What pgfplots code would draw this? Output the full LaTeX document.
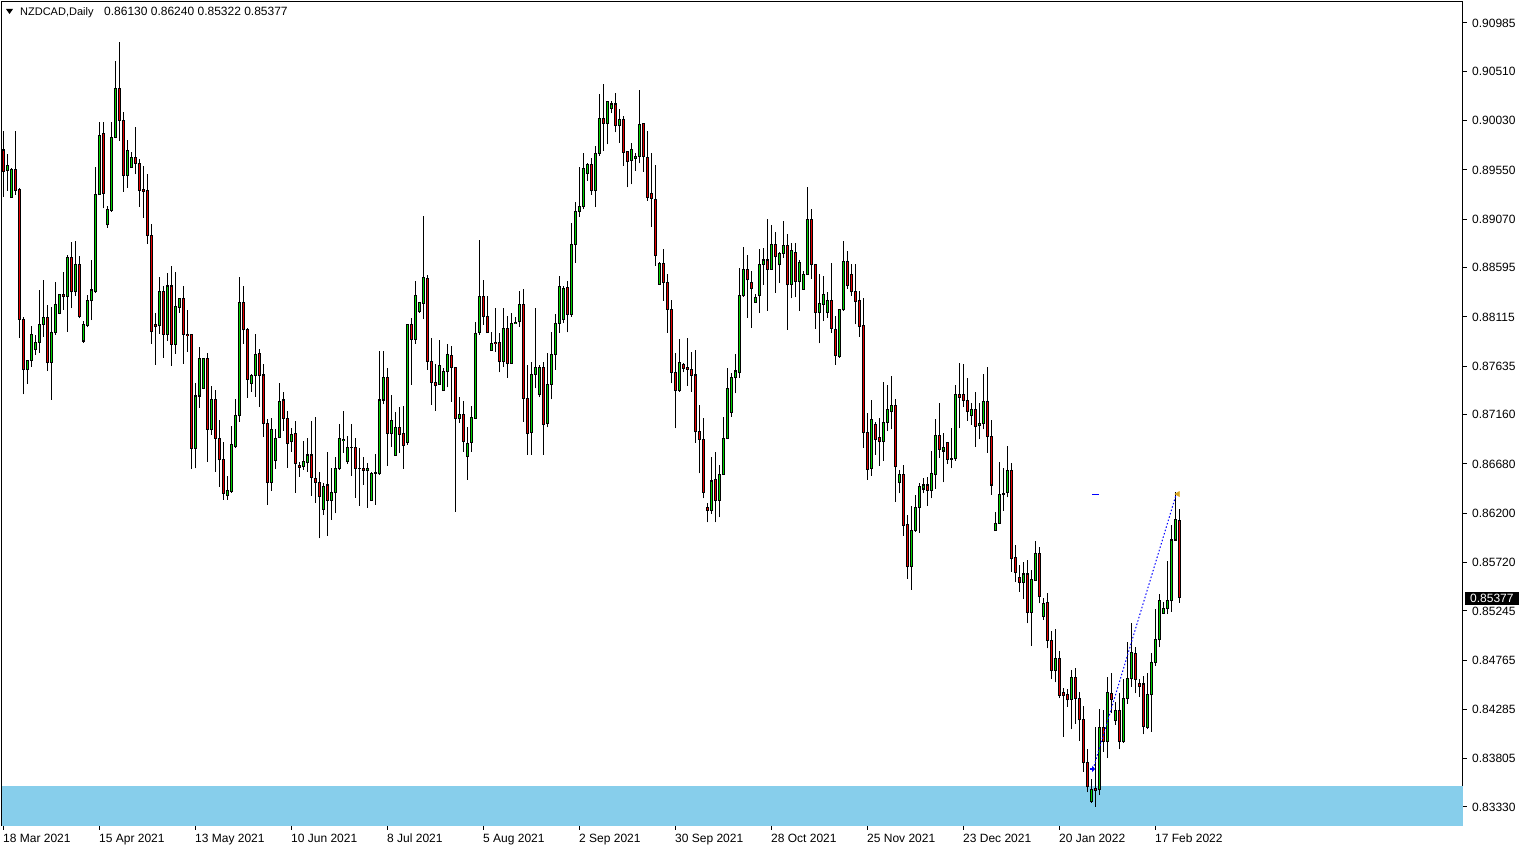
\documentclass[border=0pt]{standalone}
\usepackage{fontspec}
\setmainfont{Liberation Sans}
\usepackage{pgfplots}
\pgfplotsset{compat=1.18}
\usepackage{pgfplotstable}
\usetikzlibrary{arrows.meta}
\definecolor{bull}{RGB}{0,210,0}
\definecolor{bear}{RGB}{230,0,0}
\definecolor{zone}{RGB}{135,206,235}
\definecolor{tradeorange}{RGB}{218,165,32}

\pgfplotstableread{
o h l c
0.89745 0.89930 0.89290 0.89533
0.89543 0.89706 0.89345 0.89589
0.89283 0.89567 0.89283 0.89550
0.89550 0.89930 0.89306 0.89348
0.89355 0.89377 0.87913 0.88092
0.88092 0.88117 0.87360 0.87600
0.87600 0.87688 0.87458 0.87688
0.87688 0.88027 0.87630 0.87946
0.87800 0.87939 0.87744 0.87868
0.87868 0.88378 0.87767 0.88043
0.88043 0.88476 0.87922 0.88111
0.88111 0.88232 0.87587 0.87669
0.87669 0.88209 0.87304 0.87965
0.87961 0.88453 0.87939 0.88239
0.88151 0.88336 0.88141 0.88336
0.88336 0.88551 0.88183 0.88313
0.88313 0.88720 0.87972 0.88697
0.88697 0.88850 0.88200 0.88361
0.88361 0.88857 0.88320 0.88623
0.88623 0.88713 0.88102 0.88117
0.87880 0.88078 0.87864 0.88037
0.88030 0.88330 0.88014 0.88271
0.88271 0.88671 0.88085 0.88378
0.88361 0.89582 0.88352 0.89306
0.89306 0.90021 0.89306 0.89891
0.89908 0.90021 0.89176 0.89322
0.89013 0.89198 0.88987 0.89166
0.89152 0.90015 0.89143 0.89869
0.89869 0.90614 0.89859 0.90348
0.90348 0.90803 0.89836 0.90031
0.90031 0.90113 0.89338 0.89494
0.89494 0.89843 0.89377 0.89738
0.89576 0.89729 0.89573 0.89674
0.89674 0.89967 0.89508 0.89615
0.89615 0.89654 0.89191 0.89348
0.89355 0.89589 0.89084 0.89338
0.89345 0.89508 0.88827 0.88909
0.88909 0.89020 0.87851 0.87972
0.88043 0.88151 0.87646 0.88020
0.88030 0.88502 0.87949 0.88361
0.88361 0.88417 0.87717 0.87946
0.87946 0.88541 0.87880 0.88417
0.88417 0.88613 0.87639 0.87848
0.87848 0.88551 0.87754 0.88215
0.88209 0.88297 0.88157 0.88297
0.88297 0.88417 0.87656 0.87946
0.87946 0.88183 0.87776 0.87932
0.87939 0.87949 0.86628 0.86833
0.86833 0.87467 0.86637 0.87343
0.87343 0.87819 0.87229 0.87711
0.87418 0.87717 0.87418 0.87705
0.87711 0.87760 0.86702 0.87018
0.87018 0.87441 0.86963 0.87311
0.87311 0.87402 0.86605 0.86930
0.86930 0.87109 0.86458 0.86719
0.86725 0.86891 0.86328 0.86393
0.86370 0.86562 0.86328 0.86416
0.86410 0.87050 0.86400 0.86865
0.86848 0.87311 0.86833 0.87148
0.87148 0.88502 0.87092 0.88258
0.88258 0.88417 0.87851 0.87988
0.87997 0.88004 0.87327 0.87506
0.87467 0.87555 0.87385 0.87541
0.87541 0.87946 0.87336 0.87751
0.87760 0.87802 0.87239 0.87541
0.87548 0.87653 0.86946 0.87077
0.87077 0.87119 0.86279 0.86497
0.86497 0.87125 0.86416 0.87018
0.86712 0.87018 0.86631 0.86930
0.86940 0.87467 0.86930 0.87294
0.87304 0.87379 0.87004 0.87125
0.87125 0.87197 0.86644 0.86881
0.86897 0.87027 0.86800 0.86969
0.86979 0.87099 0.86400 0.86686
0.86660 0.86696 0.86555 0.86647
0.86653 0.86904 0.86621 0.86702
0.86692 0.86936 0.86605 0.86767
0.86767 0.87099 0.86370 0.86549
0.86539 0.87141 0.86296 0.86500
0.86500 0.86598 0.85954 0.86360
0.86237 0.86490 0.86181 0.86464
0.86474 0.86794 0.85979 0.86321
0.86321 0.86644 0.86133 0.86403
0.86400 0.86745 0.86198 0.86637
0.86631 0.87067 0.86621 0.86930
0.86907 0.87197 0.86790 0.86920
0.86702 0.86956 0.86679 0.86842
0.86842 0.87067 0.86562 0.86836
0.86842 0.86936 0.86351 0.86634
0.86637 0.86839 0.86269 0.86631
0.86637 0.86751 0.86474 0.86614
0.86614 0.86686 0.86253 0.86637
0.86321 0.86605 0.86318 0.86588
0.86588 0.86774 0.86279 0.86592
0.86582 0.87783 0.86572 0.87304
0.87304 0.87783 0.87262 0.87526
0.87526 0.87620 0.86660 0.86979
0.86979 0.87353 0.86848 0.87102
0.86760 0.87184 0.86760 0.87037
0.87037 0.87239 0.86790 0.86969
0.86979 0.87249 0.86631 0.86858
0.86887 0.88043 0.86865 0.88043
0.88037 0.88102 0.87451 0.87897
0.87897 0.88466 0.87851 0.88323
0.88166 0.88264 0.88156 0.88254
0.88248 0.89101 0.88092 0.88502
0.88492 0.88525 0.87597 0.87679
0.87679 0.87906 0.87255 0.87473
0.87473 0.87656 0.87197 0.87444
0.87458 0.87890 0.87451 0.87643
0.87395 0.87614 0.87395 0.87584
0.87581 0.87851 0.87428 0.87751
0.87741 0.87832 0.87288 0.87620
0.87624 0.87624 0.86214 0.87122
0.87122 0.87330 0.87077 0.87164
0.87158 0.87294 0.86800 0.86897
0.86751 0.87037 0.86523 0.86881
0.86891 0.87246 0.86800 0.87135
0.87125 0.88068 0.87116 0.87956
0.87961 0.88866 0.87939 0.88313
0.88313 0.88476 0.88037 0.88117
0.88117 0.88320 0.87956 0.87961
0.87786 0.87965 0.87786 0.87858
0.87868 0.88200 0.87776 0.87855
0.87868 0.87956 0.87574 0.87679
0.87679 0.88200 0.87630 0.88004
0.88004 0.88124 0.87522 0.87663
0.87663 0.88151 0.87656 0.88053
0.88050 0.88111 0.88046 0.88063
0.88068 0.88369 0.88020 0.88239
0.88239 0.88388 0.87092 0.87320
0.87320 0.87646 0.86767 0.86979
0.86989 0.87672 0.86767 0.87555
0.87555 0.88200 0.87418 0.87624
0.87360 0.87646 0.87330 0.87624
0.87624 0.87672 0.86767 0.87067
0.87077 0.87760 0.87037 0.87458
0.87458 0.87965 0.87311 0.87751
0.87751 0.88144 0.87597 0.88053
0.88053 0.88515 0.87956 0.88411
0.88092 0.88417 0.88053 0.88395
0.88404 0.88466 0.87965 0.88141
0.88141 0.89030 0.88117 0.88824
0.88824 0.89234 0.88645 0.89143
0.89143 0.89576 0.89094 0.89191
0.89191 0.89713 0.89166 0.89567
0.89518 0.89615 0.89445 0.89606
0.89606 0.89664 0.89306 0.89345
0.89345 0.89784 0.89186 0.89713
0.89713 0.90292 0.89686 0.90055
0.90055 0.90389 0.89738 0.90006
0.90006 0.90217 0.89801 0.90217
0.90152 0.90226 0.90103 0.90194
0.90194 0.90299 0.89918 0.89983
0.89983 0.90142 0.89817 0.90045
0.90045 0.90077 0.89592 0.89723
0.89729 0.89735 0.89381 0.89631
0.89641 0.89811 0.89410 0.89752
0.89664 0.89713 0.89540 0.89686
0.89680 0.90331 0.89615 0.89996
0.90006 0.90012 0.89533 0.89680
0.89674 0.89930 0.89247 0.89280
0.89316 0.89713 0.88996 0.89274
0.89264 0.89599 0.88616 0.88713
0.88434 0.88655 0.88427 0.88639
0.88639 0.88778 0.88274 0.88453
0.88453 0.88534 0.87961 0.88190
0.88190 0.88281 0.87467 0.87574
0.87574 0.87767 0.87027 0.87395
0.87395 0.87899 0.87385 0.87672
0.87653 0.87663 0.87574 0.87614
0.87624 0.87906 0.87444 0.87604
0.87604 0.87776 0.87385 0.87541
0.87548 0.87793 0.86887 0.86994
0.86994 0.87255 0.86588 0.86920
0.86920 0.87131 0.86344 0.86403
0.86256 0.86296 0.86110 0.86223
0.86223 0.86751 0.86191 0.86513
0.86523 0.86800 0.86110 0.86321
0.86321 0.86670 0.86159 0.86572
0.86579 0.87141 0.86579 0.86930
0.86930 0.87620 0.86923 0.87412
0.87180 0.87565 0.87141 0.87526
0.87522 0.87754 0.87369 0.87587
0.87568 0.88593 0.87519 0.88320
0.88320 0.88801 0.88313 0.88580
0.88580 0.88720 0.88107 0.88476
0.88453 0.88564 0.88011 0.88388
0.88258 0.88336 0.88258 0.88307
0.88320 0.88778 0.88151 0.88629
0.88629 0.88791 0.88427 0.88671
0.88671 0.89072 0.88173 0.88580
0.88580 0.89013 0.88574 0.88824
0.88824 0.88941 0.88352 0.88703
0.88623 0.88752 0.88444 0.88736
0.88736 0.89052 0.88694 0.88811
0.88808 0.88921 0.87988 0.88427
0.88434 0.88834 0.88297 0.88759
0.88746 0.88834 0.88307 0.88460
0.88460 0.88671 0.88176 0.88649
0.88385 0.88564 0.88378 0.88525
0.88531 0.89387 0.88525 0.89062
0.89062 0.89169 0.88483 0.88623
0.88623 0.88629 0.87997 0.88157
0.88157 0.88531 0.87858 0.88248
0.88239 0.88515 0.88075 0.88330
0.88157 0.88362 0.88107 0.88274
0.88274 0.88639 0.87961 0.88004
0.87994 0.88124 0.87646 0.87738
0.87728 0.88193 0.87718 0.88183
0.88183 0.88857 0.88173 0.88661
0.88661 0.88759 0.88388 0.88421
0.88531 0.88629 0.88323 0.88361
0.88361 0.88629 0.88043 0.88264
0.88271 0.88369 0.87922 0.88020
0.88027 0.88297 0.86833 0.86985
0.86989 0.87174 0.86523 0.86628
0.86637 0.87304 0.86565 0.87109
0.87060 0.87092 0.86767 0.86923
0.86940 0.87125 0.86663 0.86897
0.86897 0.87477 0.86709 0.87086
0.87086 0.87451 0.87001 0.87207
0.87190 0.87539 0.87018 0.87255
0.87246 0.87314 0.86311 0.86653
0.86497 0.86621 0.86393 0.86572
0.86572 0.86670 0.85979 0.86077
0.86084 0.86185 0.85557 0.85677
0.85677 0.86269 0.85449 0.86026
0.86029 0.86377 0.86019 0.86256
0.86253 0.86497 0.86009 0.86464
0.86435 0.86539 0.86393 0.86474
0.86474 0.86555 0.86272 0.86419
0.86419 0.86809 0.86344 0.86582
0.86579 0.87116 0.86435 0.86953
0.86953 0.87272 0.86741 0.86823
0.86806 0.86979 0.86500 0.86839
0.86891 0.86891 0.86679 0.86725
0.86735 0.87027 0.86637 0.86725
0.86728 0.87451 0.86712 0.87353
0.87353 0.87669 0.87027 0.87330
0.87353 0.87656 0.87239 0.87298
0.87298 0.87516 0.87099 0.87190
0.87151 0.87272 0.87060 0.87213
0.87213 0.87379 0.86848 0.87044
0.87053 0.87278 0.86920 0.87077
0.87070 0.87558 0.87018 0.87288
0.87288 0.87624 0.86790 0.86946
0.86946 0.87109 0.86377 0.86474
0.86029 0.86207 0.86026 0.86100
0.86100 0.86696 0.86094 0.86383
0.86383 0.86637 0.86223 0.86393
0.86400 0.86855 0.86354 0.86611
0.86611 0.86686 0.85628 0.85752
0.85768 0.85888 0.85530 0.85618
0.85573 0.85693 0.85433 0.85521
0.85521 0.85726 0.85358 0.85605
0.85605 0.85742 0.85124 0.85231
0.85231 0.85644 0.84904 0.85547
0.85540 0.85927 0.85537 0.85808
0.85808 0.85866 0.85319 0.85383
0.85189 0.85368 0.85156 0.85319
0.85329 0.85423 0.84880 0.84954
0.84951 0.85049 0.84580 0.84661
0.84661 0.85068 0.84547 0.84782
0.84782 0.84853 0.84391 0.84417
0.84450 0.84489 0.84017 0.84417
0.84424 0.84483 0.84310 0.84375
0.84382 0.84668 0.84089 0.84596
0.84596 0.84690 0.84141 0.84391
0.84391 0.84450 0.83977 0.84180
0.84180 0.84316 0.83675 0.83763
0.83767 0.83893 0.83474 0.83529
0.83382 0.83604 0.83372 0.83503
0.83513 0.84109 0.83333 0.83490
0.83503 0.84287 0.83447 0.84109
0.84109 0.84277 0.83870 0.83968
0.83968 0.84603 0.83806 0.84450
0.84440 0.84641 0.84245 0.84382
0.84173 0.84358 0.84131 0.84268
0.84268 0.84440 0.83893 0.83968
0.83968 0.84577 0.83958 0.84391
0.84391 0.84938 0.84336 0.84580
0.84580 0.85124 0.84505 0.84840
0.84830 0.84889 0.84440 0.84577
0.84538 0.84580 0.84407 0.84505
0.84531 0.84612 0.84040 0.84115
0.84109 0.84641 0.84089 0.84424
0.84424 0.84830 0.84066 0.84743
0.84743 0.85261 0.84711 0.84961
0.84961 0.85407 0.84889 0.85351
0.85222 0.85335 0.85215 0.85264
0.85264 0.85732 0.85212 0.85342
0.85342 0.86084 0.85238 0.85937
0.85937 0.86403 0.85927 0.86133
0.86130 0.86240 0.85322 0.85377
}\candles

\begin{document}
\begin{tikzpicture}[x=1pt,y=1pt]
\useasboundingbox (0,0) rectangle (1528,850);
\begin{axis}[
  at={(2pt,24pt)}, anchor=south west,
  scale only axis, width=1461pt, height=824pt,
  xmin=-0.375, xmax=364.875,
  ymin=0.831445, ymax=0.911901,
  clip=false,
  axis line style={line width=1pt, black},
  tick align=outside,
  major tick length=4pt,
  tick style={black, line width=1pt},
  xtick={0,24,48,72,96,120,144,168,192,216,240,264,288},
  xticklabels={18 Mar 2021,15 Apr 2021,13 May 2021,10 Jun 2021,8 Jul 2021,5 Aug 2021,2 Sep 2021,30 Sep 2021,28 Oct 2021,25 Nov 2021,23 Dec 2021,20 Jan 2022,17 Feb 2022},
  xtick pos=bottom,
  ytick pos=right,
  yticklabel pos=right,
  ytick={0.90985,0.90510,0.90030,0.89550,0.89070,0.88595,0.88115,0.87635,0.87160,0.86680,0.86200,0.85720,0.85245,0.84765,0.84285,0.83805,0.83330},
  yticklabels={0.90985,0.90510,0.90030,0.89550,0.89070,0.88595,0.88115,0.87635,0.87160,0.86680,0.86200,0.85720,0.85245,0.84765,0.84285,0.83805,0.83330},
  scaled y ticks=false,
  /pgf/number format/assume math mode=true,
  xticklabel style={anchor=north west, inner sep=0pt, xshift=-0.5pt, yshift=-3.5pt, font=\fontsize{12}{14}\selectfont},
  yticklabel style={anchor=west, inner sep=0pt, xshift=5pt, font=\fontsize{12}{14}\selectfont},
]
% support zone
\addplot[draw=none, fill=zone, forget plot] coordinates {(-0.375,0.831445) (364.875,0.831445) (364.875,0.83535) (-0.375,0.83535)} -- cycle;
% wicks
\addplot[draw=none, mark=none, forget plot,
  error bars/.cd, y dir=plus, y explicit, error mark=none,
  error bar style={draw=black, line width=1pt}]
  table[x expr=\coordindex, y=l, y error plus expr={\thisrow{h}-\thisrow{l}}] {\candles};
% bodies (outline)
\addplot[draw=none, mark=none, forget plot,
  error bars/.cd, y dir=plus, y explicit, error mark=none,
  error bar style={draw=black, line width=3pt}]
  table[x expr=\coordindex, y expr={min(\thisrow{o},\thisrow{c})-0.00005}, y error plus expr={abs(\thisrow{o}-\thisrow{c})+0.0001}] {\candles};
% bull fill
\addplot[draw=none, mark=none, forget plot,
  error bars/.cd, y dir=plus, y explicit, error mark=none,
  error bar style={draw=bull, line width=1pt}]
  table[x expr=\coordindex, y expr={\thisrow{o}+0.00005}, y error plus expr={max(\thisrow{c}-\thisrow{o}-0.0001,0)}] {\candles};
% bear fill
\addplot[draw=none, mark=none, forget plot,
  error bars/.cd, y dir=plus, y explicit, error mark=none,
  error bar style={draw=bear, line width=1pt}]
  table[x expr=\coordindex, y expr={\thisrow{c}+0.00005}, y error plus expr={max(\thisrow{o}-\thisrow{c}-0.0001,0)}] {\candles};
% trade
\addplot[blue, line width=1pt, dash pattern=on 1.5pt off 2pt, forget plot] coordinates {(272.4,0.83701) (293.2,0.86386)};
\addplot[blue, line width=1pt, forget plot] coordinates {(272.1,0.86386) (273.9,0.86386)};
\addplot[blue, line width=2pt, -{Triangle[length=3pt,width=6pt]}, forget plot] coordinates {(271.6,0.83701) (272.9,0.83701)};
\addplot[only marks, mark=triangle*, mark size=3pt, mark options={rotate=90, fill=tradeorange, draw=tradeorange}, forget plot] coordinates {(293.6,0.86386)};
\end{axis}
% header
\fill (6,841) -- (13,841) -- (9.5,836) -- cycle;
\node[anchor=base west, inner sep=0pt, font=\fontsize{11}{13}\selectfont] at (20,834) {NZDCAD,Daily};
\node[anchor=base west, inner sep=0pt, font=\fontsize{12}{14}\selectfont] at (104,834) {0.86130 0.86240 0.85322 0.85377};
% current price box
\node[anchor=west, fill=black, text=white, inner xsep=5pt, inner ysep=0pt, minimum height=13pt, font=\fontsize{12}{14}\selectfont] at (1465,251.5) {0.85377};
\end{tikzpicture}
\end{document}
